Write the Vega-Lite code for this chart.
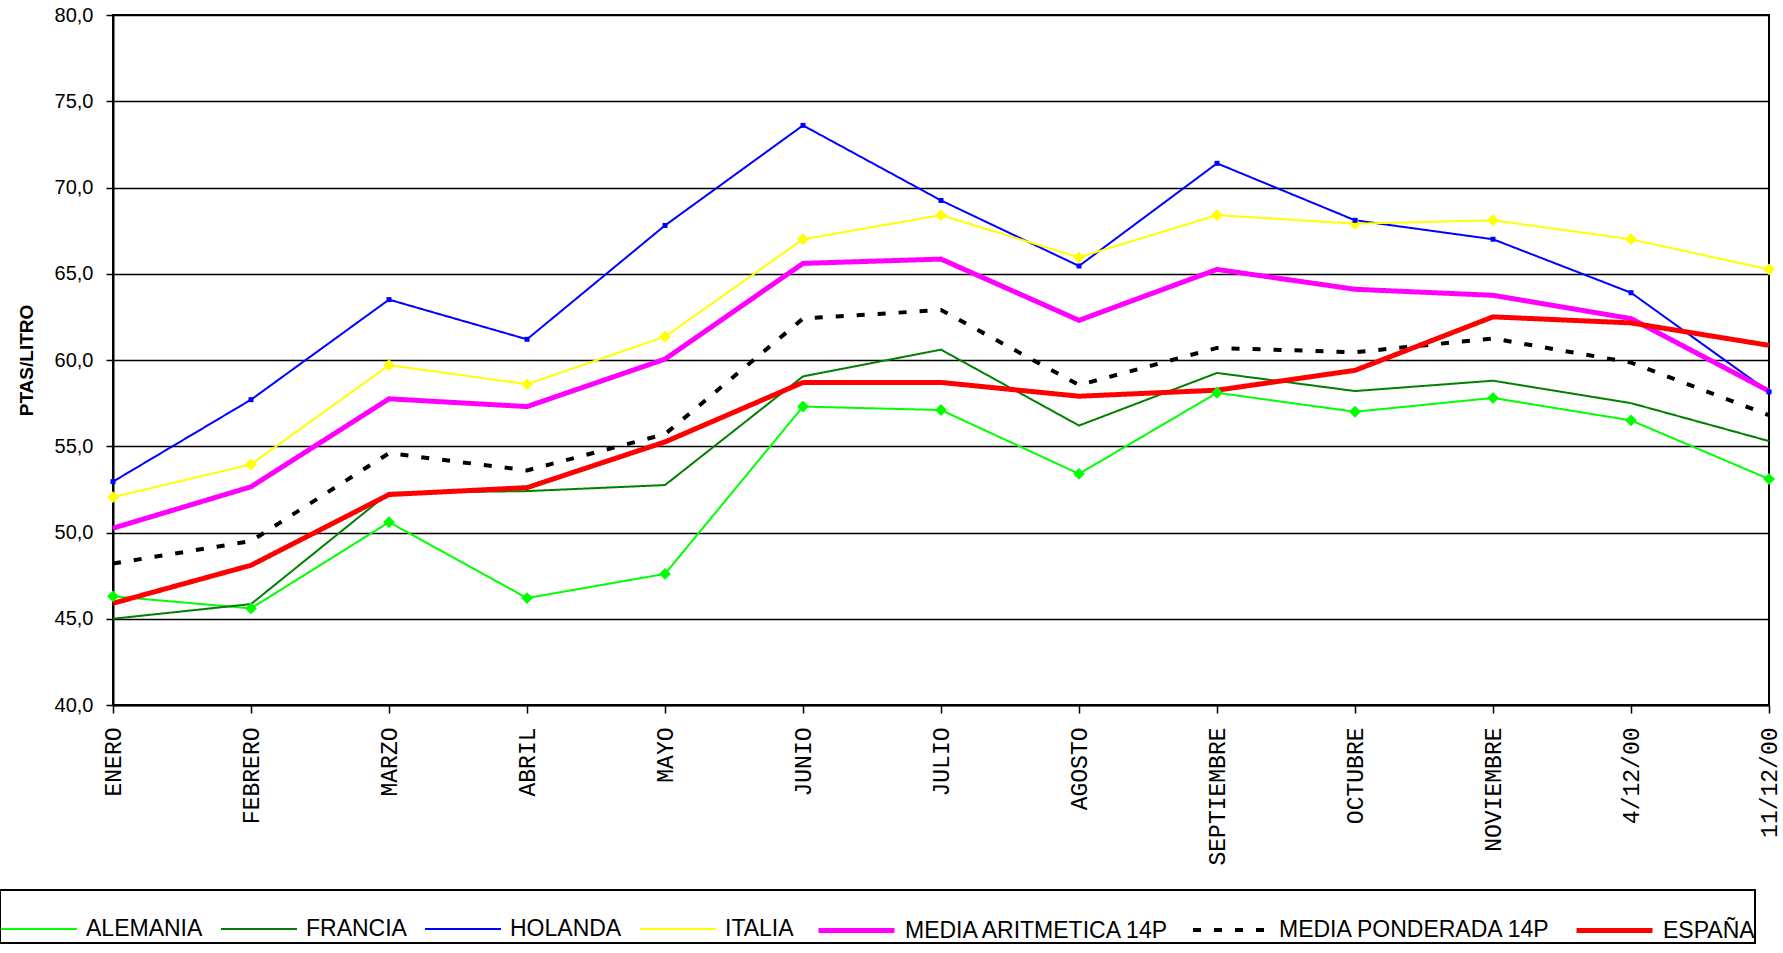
{
  "$schema": "https://vega.github.io/schema/vega-lite/v6.json",
  "width": 1656,
  "height": 690,
  "autosize": {"type": "none"},
  "padding": {"left": 113, "top": 15, "right": 14, "bottom": 248},
  "background": "white",
  "config": {
    "locale": {"number": {"decimal": ",", "thousands": ".", "grouping": [3], "currency": ["", " €"]}},
    "view": {"stroke": "black", "strokeWidth": 2},
    "legend": {"strokeWidth": 2}
  },
  "data": {
    "values": [
      {"mes": "ENERO", "serie": "ALEMANIA", "valor": 46.3},
      {"mes": "FEBRERO", "serie": "ALEMANIA", "valor": 45.6},
      {"mes": "MARZO", "serie": "ALEMANIA", "valor": 50.6},
      {"mes": "ABRIL", "serie": "ALEMANIA", "valor": 46.2},
      {"mes": "MAYO", "serie": "ALEMANIA", "valor": 47.6},
      {"mes": "JUNIO", "serie": "ALEMANIA", "valor": 57.3},
      {"mes": "JULIO", "serie": "ALEMANIA", "valor": 57.1},
      {"mes": "AGOSTO", "serie": "ALEMANIA", "valor": 53.4},
      {"mes": "SEPTIEMBRE", "serie": "ALEMANIA", "valor": 58.1},
      {"mes": "OCTUBRE", "serie": "ALEMANIA", "valor": 57.0},
      {"mes": "NOVIEMBRE", "serie": "ALEMANIA", "valor": 57.8},
      {"mes": "4/12/00", "serie": "ALEMANIA", "valor": 56.5},
      {"mes": "11/12/00", "serie": "ALEMANIA", "valor": 53.1},
      {"mes": "ENERO", "serie": "FRANCIA", "valor": 45.0},
      {"mes": "FEBRERO", "serie": "FRANCIA", "valor": 45.85},
      {"mes": "MARZO", "serie": "FRANCIA", "valor": 52.3},
      {"mes": "ABRIL", "serie": "FRANCIA", "valor": 52.4},
      {"mes": "MAYO", "serie": "FRANCIA", "valor": 52.75},
      {"mes": "JUNIO", "serie": "FRANCIA", "valor": 59.05},
      {"mes": "JULIO", "serie": "FRANCIA", "valor": 60.6},
      {"mes": "AGOSTO", "serie": "FRANCIA", "valor": 56.2},
      {"mes": "SEPTIEMBRE", "serie": "FRANCIA", "valor": 59.25},
      {"mes": "OCTUBRE", "serie": "FRANCIA", "valor": 58.2},
      {"mes": "NOVIEMBRE", "serie": "FRANCIA", "valor": 58.8},
      {"mes": "4/12/00", "serie": "FRANCIA", "valor": 57.5},
      {"mes": "11/12/00", "serie": "FRANCIA", "valor": 55.3},
      {"mes": "ENERO", "serie": "HOLANDA", "valor": 52.95},
      {"mes": "FEBRERO", "serie": "HOLANDA", "valor": 57.7},
      {"mes": "MARZO", "serie": "HOLANDA", "valor": 63.5},
      {"mes": "ABRIL", "serie": "HOLANDA", "valor": 61.2},
      {"mes": "MAYO", "serie": "HOLANDA", "valor": 67.8},
      {"mes": "JUNIO", "serie": "HOLANDA", "valor": 73.6},
      {"mes": "JULIO", "serie": "HOLANDA", "valor": 69.25},
      {"mes": "AGOSTO", "serie": "HOLANDA", "valor": 65.45},
      {"mes": "SEPTIEMBRE", "serie": "HOLANDA", "valor": 71.4},
      {"mes": "OCTUBRE", "serie": "HOLANDA", "valor": 68.1},
      {"mes": "NOVIEMBRE", "serie": "HOLANDA", "valor": 67.0},
      {"mes": "4/12/00", "serie": "HOLANDA", "valor": 63.9},
      {"mes": "11/12/00", "serie": "HOLANDA", "valor": 58.15},
      {"mes": "ENERO", "serie": "ITALIA", "valor": 52.05},
      {"mes": "FEBRERO", "serie": "ITALIA", "valor": 53.95},
      {"mes": "MARZO", "serie": "ITALIA", "valor": 59.7},
      {"mes": "ABRIL", "serie": "ITALIA", "valor": 58.6},
      {"mes": "MAYO", "serie": "ITALIA", "valor": 61.35},
      {"mes": "JUNIO", "serie": "ITALIA", "valor": 67.0},
      {"mes": "JULIO", "serie": "ITALIA", "valor": 68.4},
      {"mes": "AGOSTO", "serie": "ITALIA", "valor": 65.95},
      {"mes": "SEPTIEMBRE", "serie": "ITALIA", "valor": 68.4},
      {"mes": "OCTUBRE", "serie": "ITALIA", "valor": 67.9},
      {"mes": "NOVIEMBRE", "serie": "ITALIA", "valor": 68.1},
      {"mes": "4/12/00", "serie": "ITALIA", "valor": 67.0},
      {"mes": "11/12/00", "serie": "ITALIA", "valor": 65.25},
      {"mes": "ENERO", "serie": "MEDIA ARITMETICA 14P", "valor": 50.25},
      {"mes": "FEBRERO", "serie": "MEDIA ARITMETICA 14P", "valor": 52.65},
      {"mes": "MARZO", "serie": "MEDIA ARITMETICA 14P", "valor": 57.75},
      {"mes": "ABRIL", "serie": "MEDIA ARITMETICA 14P", "valor": 57.3},
      {"mes": "MAYO", "serie": "MEDIA ARITMETICA 14P", "valor": 60.05},
      {"mes": "JUNIO", "serie": "MEDIA ARITMETICA 14P", "valor": 65.6},
      {"mes": "JULIO", "serie": "MEDIA ARITMETICA 14P", "valor": 65.85},
      {"mes": "AGOSTO", "serie": "MEDIA ARITMETICA 14P", "valor": 62.3},
      {"mes": "SEPTIEMBRE", "serie": "MEDIA ARITMETICA 14P", "valor": 65.25},
      {"mes": "OCTUBRE", "serie": "MEDIA ARITMETICA 14P", "valor": 64.1},
      {"mes": "NOVIEMBRE", "serie": "MEDIA ARITMETICA 14P", "valor": 63.75},
      {"mes": "4/12/00", "serie": "MEDIA ARITMETICA 14P", "valor": 62.4},
      {"mes": "11/12/00", "serie": "MEDIA ARITMETICA 14P", "valor": 58.2},
      {"mes": "ENERO", "serie": "MEDIA PONDERADA 14P", "valor": 48.2},
      {"mes": "FEBRERO", "serie": "MEDIA PONDERADA 14P", "valor": 49.5},
      {"mes": "MARZO", "serie": "MEDIA PONDERADA 14P", "valor": 54.6},
      {"mes": "ABRIL", "serie": "MEDIA PONDERADA 14P", "valor": 53.6},
      {"mes": "MAYO", "serie": "MEDIA PONDERADA 14P", "valor": 55.7},
      {"mes": "JUNIO", "serie": "MEDIA PONDERADA 14P", "valor": 62.4},
      {"mes": "JULIO", "serie": "MEDIA PONDERADA 14P", "valor": 62.9},
      {"mes": "AGOSTO", "serie": "MEDIA PONDERADA 14P", "valor": 58.55},
      {"mes": "SEPTIEMBRE", "serie": "MEDIA PONDERADA 14P", "valor": 60.7},
      {"mes": "OCTUBRE", "serie": "MEDIA PONDERADA 14P", "valor": 60.45},
      {"mes": "NOVIEMBRE", "serie": "MEDIA PONDERADA 14P", "valor": 61.25},
      {"mes": "4/12/00", "serie": "MEDIA PONDERADA 14P", "valor": 59.85},
      {"mes": "11/12/00", "serie": "MEDIA PONDERADA 14P", "valor": 56.8},
      {"mes": "ENERO", "serie": "ESPAÑA", "valor": 45.9},
      {"mes": "FEBRERO", "serie": "ESPAÑA", "valor": 48.1},
      {"mes": "MARZO", "serie": "ESPAÑA", "valor": 52.2},
      {"mes": "ABRIL", "serie": "ESPAÑA", "valor": 52.6},
      {"mes": "MAYO", "serie": "ESPAÑA", "valor": 55.25},
      {"mes": "JUNIO", "serie": "ESPAÑA", "valor": 58.7},
      {"mes": "JULIO", "serie": "ESPAÑA", "valor": 58.7},
      {"mes": "AGOSTO", "serie": "ESPAÑA", "valor": 57.9},
      {"mes": "SEPTIEMBRE", "serie": "ESPAÑA", "valor": 58.25},
      {"mes": "OCTUBRE", "serie": "ESPAÑA", "valor": 59.4},
      {"mes": "NOVIEMBRE", "serie": "ESPAÑA", "valor": 62.5},
      {"mes": "4/12/00", "serie": "ESPAÑA", "valor": 62.15},
      {"mes": "11/12/00", "serie": "ESPAÑA", "valor": 60.85}
    ]
  },
  "encoding": {
    "x": {
      "field": "mes",
      "type": "ordinal",
      "scale": {"type": "point", "padding": 0, "domain": ["ENERO", "FEBRERO", "MARZO", "ABRIL", "MAYO", "JUNIO", "JULIO", "AGOSTO", "SEPTIEMBRE", "OCTUBRE", "NOVIEMBRE", "4/12/00", "11/12/00"]},
      "axis": {
        "title": null,
        "labelAngle": -90,
        "labelFont": "Liberation Mono",
        "labelFontSize": 23,
        "labelColor": "black",
        "labelPadding": 14,
        "tickSize": 8,
        "tickColor": "black",
        "tickWidth": 1.5,
        "domainColor": "black",
        "domainWidth": 2,
        "grid": false,
        "labelOverlap": false
      }
    },
    "y": {
      "field": "valor",
      "type": "quantitative",
      "scale": {"domain": [40, 80], "nice": false, "zero": false},
      "axis": {
        "values": [40, 45, 50, 55, 60, 65, 70, 75, 80],
        "format": ".1f",
        "labelFont": "Liberation Sans",
        "labelFontSize": 20,
        "labelColor": "black",
        "labelPadding": 13,
        "tickSize": 7,
        "tickColor": "black",
        "tickWidth": 1.5,
        "domainColor": "black",
        "domainWidth": 2,
        "grid": true,
        "gridColor": "black",
        "gridWidth": 1.5,
        "gridOpacity": 1,
        "title": "PTAS/LITRO",
        "titleFont": "Liberation Sans",
        "titleFontSize": 19,
        "titleFontWeight": "bold",
        "titleColor": "black",
        "titlePadding": 18
      }
    }
  },
  "layer": [
    {
      "mark": {"type": "line"},
      "encoding": {
        "color": {
          "field": "serie",
          "type": "nominal",
          "scale": {
            "domain": ["ALEMANIA", "FRANCIA", "HOLANDA", "ITALIA", "MEDIA ARITMETICA 14P", "MEDIA PONDERADA 14P", "ESPAÑA"],
            "range": ["#00FF00", "#008000", "#0000FF", "#FFFF00", "#FF00FF", "#000000", "#FF0000"]
          },
          "legend": {
            "title": null,
            "orient": "none",
            "legendX": -113,
            "legendY": 875,
            "direction": "horizontal",
            "gridAlign": "none",
            "padding": 0,
            "labelFont": "Liberation Sans",
            "labelFontSize": 23,
            "labelColor": "black",
            "labelLimit": 0,
            "symbolType": "stroke",
            "symbolSize": 5776,
            "labelOffset": 8,
            "columnPadding": 14,
            "fillColor": "white",
            "strokeColor": "black"
          }
        },
        "strokeDash": {
          "field": "serie",
          "type": "nominal",
          "scale": {
            "domain": ["ALEMANIA", "FRANCIA", "HOLANDA", "ITALIA", "MEDIA ARITMETICA 14P", "MEDIA PONDERADA 14P", "ESPAÑA"],
            "range": [[1, 0], [1, 0], [1, 0], [1, 0], [1, 0], [8, 13], [1, 0]]
          },
          "legend": {"title": null}
        },
        "strokeWidth": {
          "field": "serie",
          "type": "nominal",
          "scale": {
            "type": "ordinal",
            "domain": ["ALEMANIA", "FRANCIA", "HOLANDA", "ITALIA", "MEDIA ARITMETICA 14P", "MEDIA PONDERADA 14P", "ESPAÑA"],
            "range": [2, 2, 2, 2, 5, 4, 5]
          },
          "legend": {"title": null}
        }
      }
    },
    {
      "transform": [{"filter": {"field": "serie", "equal": "ALEMANIA"}}],
      "mark": {"type": "point", "shape": "diamond", "filled": true, "size": 140, "opacity": 1, "color": "#00FF00"}
    },
    {
      "transform": [{"filter": {"field": "serie", "equal": "ITALIA"}}],
      "mark": {"type": "point", "shape": "diamond", "filled": true, "size": 140, "opacity": 1, "color": "#FFFF00"}
    },
    {
      "transform": [{"filter": {"field": "serie", "equal": "HOLANDA"}}],
      "mark": {"type": "point", "shape": "square", "filled": true, "size": 25, "opacity": 1, "color": "#0000FF"}
    }
  ]
}
